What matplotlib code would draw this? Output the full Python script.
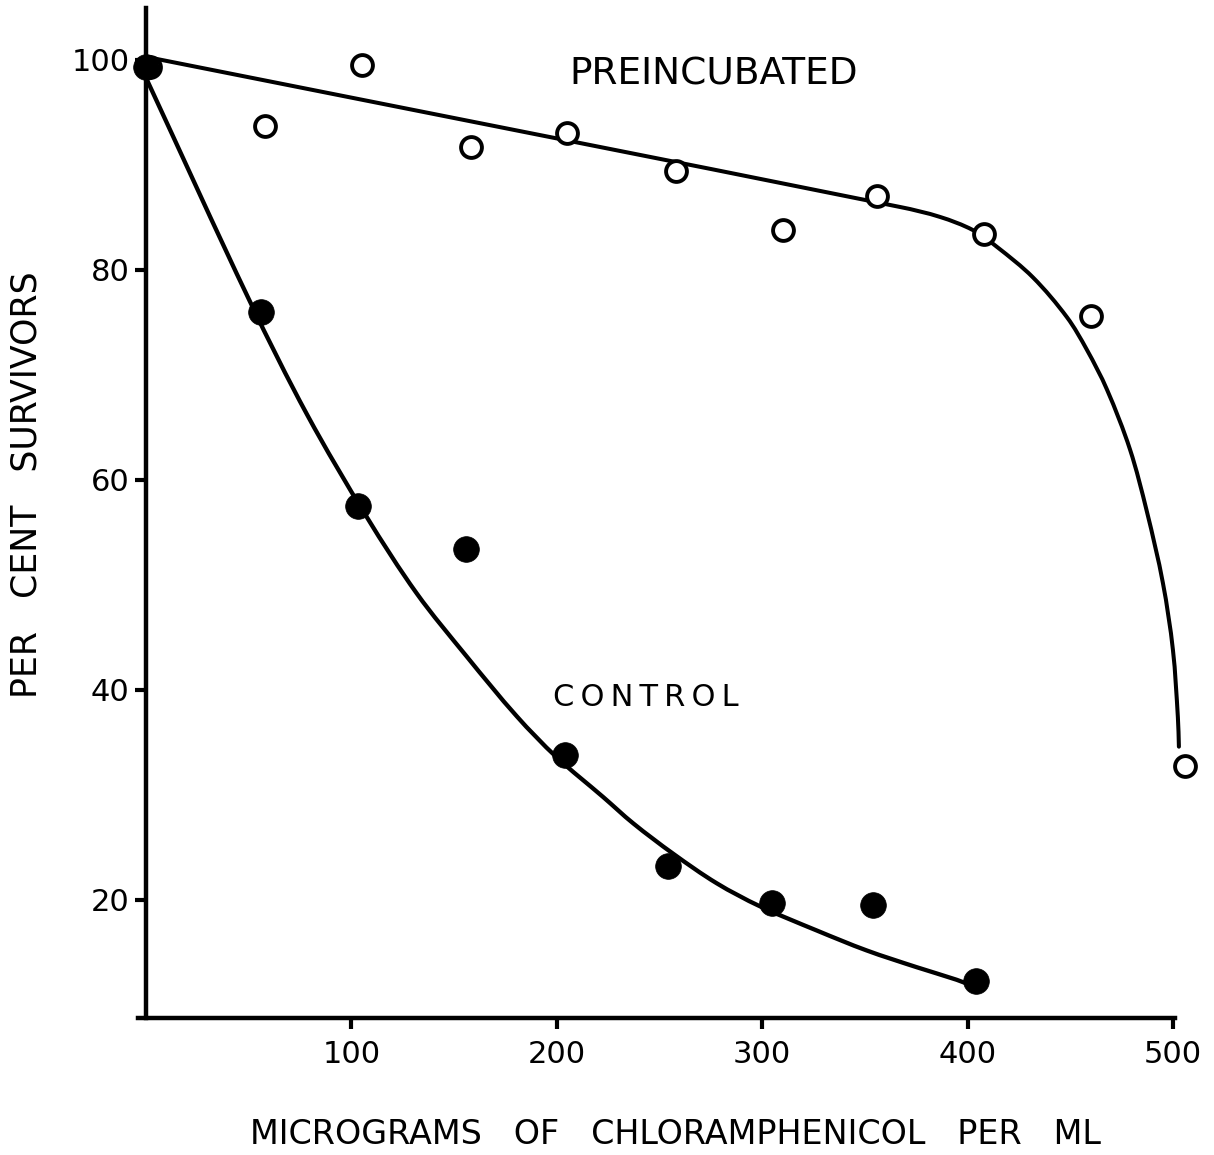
import matplotlib
matplotlib.use("Agg")
import numpy as np
import matplotlib.pyplot as plt
from matplotlib.path import Path
from matplotlib.patches import PathPatch

# Survival of cells after exposure to chloramphenicol (micrograms per ml)
pre_dose = [2, 58, 105, 158, 205, 258, 310, 356, 408, 460, 506]
pre_survivors = [99.3, 93.7, 99.5, 91.7, 93.0, 89.4, 83.8, 87.0, 83.4, 75.6, 32.8]

ctrl_dose = [0, 56, 103, 156, 204, 254, 305, 354, 404]
ctrl_survivors = [99.3, 76.0, 57.5, 53.4, 33.8, 23.2, 19.7, 19.5, 12.3]

# Knots of the hand-fitted curve through each series
pre_curve_x = [0, 367.1, 386.6, 402.6, 414.3, 431.8, 448.4, 458.1, 467.9, 479.1,
               487.3, 495.1, 500.0, 502.4, 502.9]
pre_curve_y = [100.3, 86.0, 85.05, 83.8, 82.2, 79.3, 75.5, 72.4, 68.6, 62.9,
               57.0, 50.2, 43.8, 37.4, 34.6]

ctrl_curve_x = [0, 50.6, 78.5, 107.4, 131.8, 156.1, 180.5, 199.9, 222.6, 237.2,
                256.7, 277.8, 298.9, 326.5, 350.8, 375.2, 394.7, 401.2]
ctrl_curve_y = [98.3, 77.0, 66.2, 56.5, 49.2, 43.2, 37.5, 33.6, 29.8, 27.3,
                24.4, 21.6, 19.4, 17.1, 15.2, 13.6, 12.4, 11.9]

x_ticks = [100, 200, 300, 400, 500]
y_ticks = [20, 40, 60, 80, 100]


def smooth_path(ax, xs, ys):
    """Cubic Bezier path through every knot, chord-length Catmull-Rom tangents
    measured on screen so unevenly spaced knots do not overshoot."""
    p = np.column_stack([xs, ys]).astype(float)
    d = ax.transData.transform(p)
    seg = np.hypot(*np.diff(d, axis=0).T)
    t = np.concatenate([[0.0], np.cumsum(seg)])
    n = len(p)
    m = np.zeros_like(p)
    for i in range(n):
        a, b = max(i - 1, 0), min(i + 1, n - 1)
        m[i] = (p[b] - p[a]) / (t[b] - t[a])
    verts = [tuple(p[0])]
    codes = [Path.MOVETO]
    for i in range(n - 1):
        h = t[i + 1] - t[i]
        verts += [tuple(p[i] + m[i] * h / 3), tuple(p[i + 1] - m[i + 1] * h / 3),
                  tuple(p[i + 1])]
        codes += [Path.CURVE4] * 3
    return Path(verts, codes)


W, H = 1214, 1155
fig = plt.figure(figsize=(W / 100, H / 100), dpi=100)
ax = fig.add_axes([138 / W, 1 - 1018 / H, (1175 - 138) / W, (1018 - 8) / H])
ax.set_xlim(-3.9, 501)
ax.set_ylim(8.76, 104.95)

ink = "black"
for cx, cy, lw in ((pre_curve_x, pre_curve_y, 2.9), (ctrl_curve_x, ctrl_curve_y, 3.1)):
    ax.add_patch(PathPatch(smooth_path(ax, cx, cy), fill=False, edgecolor=ink,
                           lw=lw, capstyle="round", joinstyle="round", zorder=2,
                           clip_on=False))

ax.plot(pre_dose, pre_survivors, linestyle="none", marker="o", ms=15,
        mfc="white", mec=ink, mew=2.8, zorder=3, clip_on=False)
ax.plot(ctrl_dose, ctrl_survivors, linestyle="none", marker="o", ms=18.5,
        mfc=ink, mec=ink, mew=0.5, zorder=4, clip_on=False)

for side in ("top", "right"):
    ax.spines[side].set_visible(False)
ax.spines["left"].set_position(("data", 0))
ax.spines["left"].set_linewidth(3.2)
ax.spines["bottom"].set_linewidth(3.2)

ax.set_xticks(x_ticks)
ax.set_yticks(y_ticks)
ax.set_xticklabels([str(v) for v in x_ticks])
ax.set_yticklabels([str(v) for v in y_ticks])
ax.tick_params(axis="both", direction="out", length=8, width=3, color=ink,
               labelsize=22, pad=4)
ax.tick_params(axis="x", pad=8)

ax.text(206, 98.6, "PREINCUBATED", fontsize=27, va="center", ha="left")
ax.text(198, 39.3, "C\u2009O\u2009N\u2009T\u2009R\u2009O\u2009L", fontsize=22,
        va="center", ha="left")

fig.text(675 / W, 1 - 1135 / H, "MICROGRAMS   OF   CHLORAMPHENICOL   PER   ML",
         fontsize=24, ha="center", va="center")
fig.text(27 / W, 1 - 485 / H, "PER   CENT   SURVIVORS", fontsize=25,
         rotation=90, ha="center", va="center")

fig.savefig("out.png", dpi=100, facecolor="white")
